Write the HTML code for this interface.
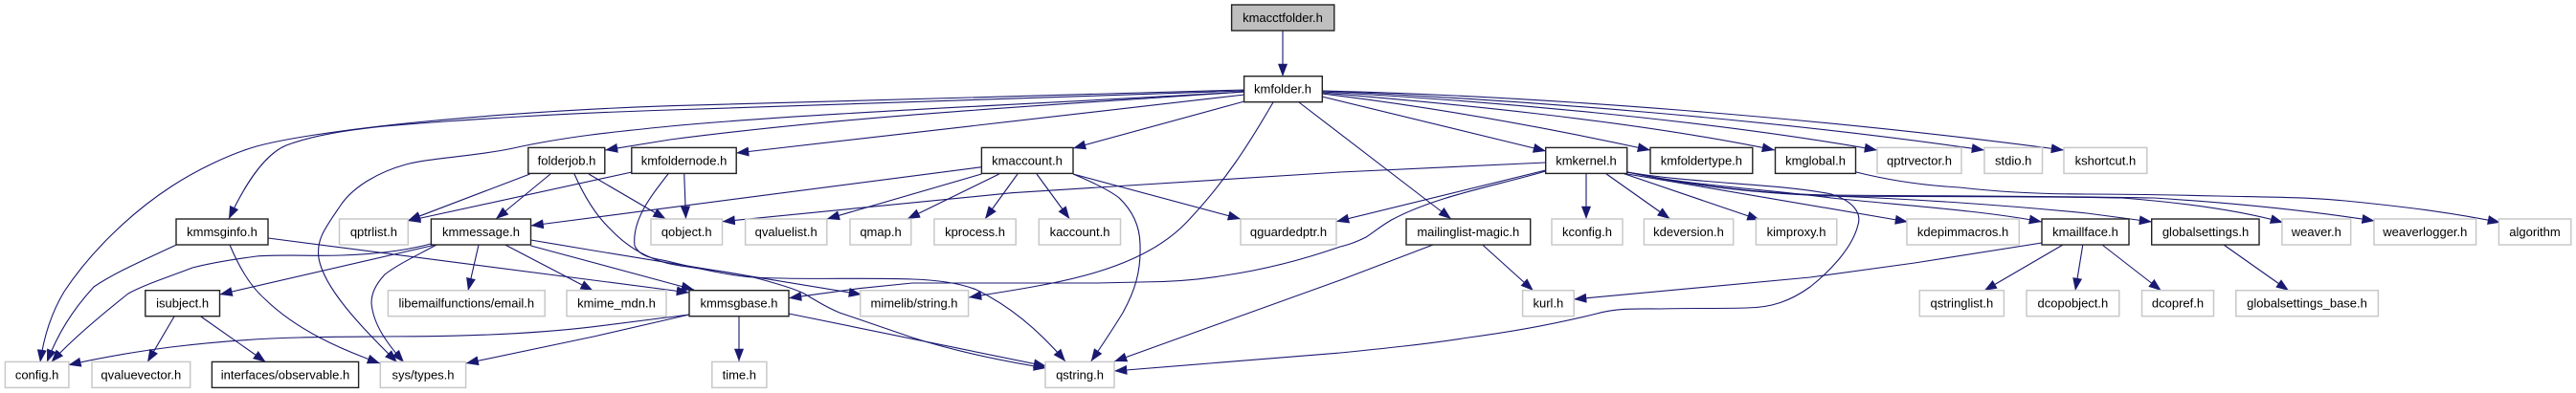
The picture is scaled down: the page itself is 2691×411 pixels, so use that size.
<!DOCTYPE html>
<html><head><meta charset="utf-8"><style>
html,body{margin:0;padding:0;background:#fff}
svg{display:block}
text{font-family:"Liberation Sans",Arial,sans-serif;font-size:13px;text-anchor:middle;fill:#000}
.e path{fill:none;stroke:#191970;stroke-width:1.1;marker-end:url(#a)}
.g rect{fill:#fff;stroke:#c8c8c8;stroke-width:1.5}
.b rect{fill:#fff;stroke:#222;stroke-width:1.4}
</style></head><body>
<svg xmlns="http://www.w3.org/2000/svg" width="2691" height="411" viewBox="0 0 2691 411">
<defs><marker id="a" markerUnits="userSpaceOnUse" markerWidth="14" markerHeight="10" refX="13.3" refY="5" orient="auto"><path d="M0,0L13.3,5L0,10z" fill="#191970"/></marker></defs>
<g class="e">
<path d="M1340,32L1340,80"/>
<path d="M1300,94L700,110.7C600,114 460,123 357,137C320,142 290,147 268,153C240,161 205,178 179,195C130,227 90,270 67,305C55,325 46,350 42,379"/>
<path d="M1300,95L700,115C600,118 480,125 402,132C360,136 325,142 299,152C275,162 255,195 239,229"/>
<path d="M1300,96C1100,108 850,118 700,132C640,138 590,143 536,155C500,163 450,165 424,172C395,180 370,195 357,213C340,238 330,250 333,270C338,300 375,340 415,379"/>
<path d="M1300,96C1100,110 900,120 700,146L632,157"/>
<path d="M1300,99L769,160"/>
<path d="M1300,106L1121,155"/>
<path d="M1330,107C1305,150 1280,190 1240,232C1190,285 1100,297 1012,311"/>
<path d="M1357,107L1516,229"/>
<path d="M1381,101L1615,158"/>
<path d="M1381,98C1480,110 1600,130 1724,157"/>
<path d="M1381,97C1500,107 1700,125 1854,157"/>
<path d="M1381,96C1550,105 1780,125 1961,157"/>
<path d="M1381,95C1600,105 1850,125 2073,157"/>
<path d="M1381,95C1600,100 1900,123 2156,157"/>
<path d="M553.6,182L426,230.7"/>
<path d="M575,182L518,229"/>
<path d="M615,182L695.5,229"/>
<path d="M599.6,181C610,205 622,225 638,240C655,258 675,270 700,276C730,282 760,283 787,290C810,296 830,302 840,307C855,316 865,322 877,327L953,353C1000,368 1050,378 1093,385"/>
<path d="M660,180L426,231"/>
<path d="M714.7,181L716.5,229"/>
<path d="M698.7,181C680,205 660,230 663,257C668,268 680,270 697,273C725,280 760,288 787,290C840,293 900,290 953,292C985,293 1005,297 1020,303C1055,320 1085,345 1113,378"/>
<path d="M184.4,256C150,272 120,285 98,300C75,325 60,350 49,378.7"/>
<path d="M240,256C250,280 262,300 277,313C310,345 355,365 397,380"/>
<path d="M280,249L720,306"/>
<path d="M450,255C420,263 390,266 357,267C325,268 295,266 268,268C245,271 220,275 201,280C175,290 150,298 134,307C105,330 75,355 53.6,378.7"/>
<path d="M455,256L229.5,308"/>
<path d="M456,256C430,270 415,277 402,287C392,298 388,307 388,317C390,340 405,360 422,379"/>
<path d="M500,256L489,304"/>
<path d="M527.7,256L619.6,304"/>
<path d="M554.5,251L620,262L900,308"/>
<path d="M554.5,257L725,303"/>
<path d="M720,329L620,341.7C560,349 500,351 446,351.7C400,352 355,352 312.5,353C270,354 220,358 178.6,363C140,368 105,374 71.4,381.7"/>
<path d="M720,329L620,352L486.6,380"/>
<path d="M824,328L1093,383"/>
<path d="M772,330L772,378"/>
<path d="M182,331L154,378.7"/>
<path d="M209.8,331L277.7,378.7"/>
<path d="M1025.4,174.7L554.5,236"/>
<path d="M1025.4,182L863.8,229"/>
<path d="M1043.8,182L947.8,229"/>
<path d="M1063,182L1029,229"/>
<path d="M1083,182L1117.4,229"/>
<path d="M1121,182L1296,229"/>
<path d="M1121,182C1145,192 1160,200 1168.8,206.7C1185,222 1191,240 1191,256.7C1192,285 1185,305 1173,327C1162,345 1152,360 1139.7,378"/>
<path d="M1614.7,170L1400,180L1057,201.7L754.5,231.7"/>
<path d="M1614.7,178L1396,231.7"/>
<path d="M1614.7,179C1560,195 1500,205 1453.6,230C1440,238 1435,243 1427,248C1415,254 1408,256 1400,258C1360,272 1320,282 1280,288C1250,293 1220,295 1191,295L1146,296L953,296L897,301.7L824,311.7"/>
<path d="M1657,181L1657,229"/>
<path d="M1676.8,181L1744.6,229"/>
<path d="M1694.6,181L1838.4,230"/>
<path d="M1700,182L1993,232"/>
<path d="M1700,180C1770,195 1850,198 1913,207C1990,215 2070,220 2133,232"/>
<path d="M1700,180C1770,195 1840,202 1913,205C2000,208 2100,215 2180,223L2248,232"/>
<path d="M1700,180C1780,197 1850,203 1913,205C2020,206 2120,205 2217,207C2280,212 2340,220 2385,232.7"/>
<path d="M1700,180C1780,197 1850,203 1913,204C2020,205 2150,205 2250,207C2330,212 2410,220 2480.7,231"/>
<path d="M1700,180C1770,192 1860,192 1913,203C1935,210 1945,222 1941,235C1935,260 1910,285 1891,300C1870,315 1850,322 1824,322C1790,323 1760,322 1735,323C1710,323 1690,322 1668,328C1620,340 1580,347 1534,353C1490,360 1440,365 1400,369L1164,388"/>
<path d="M1497,256L1400,293L1164,378"/>
<path d="M1548.7,256L1601.8,304"/>
<path d="M1939,180C1975,189 2010,194 2047,196C2090,201 2130,203 2180,203C2225,203 2275,204 2317,205C2360,206 2410,206 2450,210C2510,216 2560,222 2612,232.7"/>
<path d="M2133,254L2000,275L1891,290L1644,313"/>
<path d="M2155,256L2072.7,304"/>
<path d="M2175.8,256L2168,304"/>
<path d="M2196,256L2257.8,304"/>
<path d="M2323,256L2391,304"/>
</g>
<g class="b">
<rect x="1286.6" y="5" width="107.2" height="27" style="fill:#bfbfbf"/><text x="1340" y="23">kmacctfolder.h</text>
<rect x="1299.6" y="79.7" width="81.7" height="27"/><text x="1340" y="97.7">kmfolder.h</text>
<rect x="551.8" y="154.4" width="80" height="27"/><text x="592" y="172.4">folderjob.h</text>
<rect x="659.8" y="154.4" width="109.4" height="27"/><text x="714.5" y="172.4">kmfoldernode.h</text>
<rect x="1025.4" y="154.4" width="95.6" height="27"/><text x="1073" y="172.4">kmaccount.h</text>
<rect x="1614.7" y="154.4" width="85" height="27"/><text x="1657" y="172.4">kmkernel.h</text>
<rect x="1724" y="154.4" width="106.8" height="27"/><text x="1777.4" y="172.4">kmfoldertype.h</text>
<rect x="1854.5" y="154.4" width="84" height="27"/><text x="1896.5" y="172.4">kmglobal.h</text>
<rect x="184" y="229" width="96" height="27"/><text x="232" y="247">kmmsginfo.h</text>
<rect x="450.4" y="229" width="104.1" height="27"/><text x="502.5" y="247">kmmessage.h</text>
<rect x="1469" y="229" width="129.7" height="27"/><text x="1533.8" y="247">mailinglist-magic.h</text>
<rect x="2133" y="229" width="91" height="27"/><text x="2178.5" y="247">kmaillface.h</text>
<rect x="2247.7" y="229" width="112.3" height="27"/><text x="2304" y="247">globalsettings.h</text>
<rect x="151.8" y="303.7" width="77.7" height="27"/><text x="190.6" y="321.7">isubject.h</text>
<rect x="720" y="303.7" width="104" height="27"/><text x="772" y="321.7">kmmsgbase.h</text>
<rect x="221.4" y="378.4" width="153.2" height="27"/><text x="298" y="396.4">interfaces/observable.h</text>
</g>
<g class="g">
<rect x="1961" y="154.4" width="88" height="27"/><text x="2005" y="172.4">qptrvector.h</text>
<rect x="2073" y="154.4" width="60.5" height="27"/><text x="2103.2" y="172.4">stdio.h</text>
<rect x="2156" y="154.4" width="86.8" height="27"/><text x="2199.4" y="172.4">kshortcut.h</text>
<rect x="354.5" y="229" width="71.8" height="27"/><text x="390.4" y="247">qptrlist.h</text>
<rect x="680" y="229" width="74.5" height="27"/><text x="717.2" y="247">qobject.h</text>
<rect x="778.6" y="229" width="85.2" height="27"/><text x="821.2" y="247">qvaluelist.h</text>
<rect x="888" y="229" width="63.8" height="27"/><text x="920" y="247">qmap.h</text>
<rect x="975.9" y="229" width="85.3" height="27"/><text x="1018.5" y="247">kprocess.h</text>
<rect x="1085.3" y="229" width="85.2" height="27"/><text x="1128" y="247">kaccount.h</text>
<rect x="1296" y="229" width="100" height="27"/><text x="1346" y="247">qguardedptr.h</text>
<rect x="1621" y="229" width="74" height="27"/><text x="1658" y="247">kconfig.h</text>
<rect x="1717.4" y="229" width="93.3" height="27"/><text x="1764" y="247">kdeversion.h</text>
<rect x="1834.4" y="229" width="84.4" height="27"/><text x="1876.6" y="247">kimproxy.h</text>
<rect x="1992" y="229" width="117.3" height="27"/><text x="2050.6" y="247">kdepimmacros.h</text>
<rect x="2383.9" y="229" width="71.8" height="27"/><text x="2419.8" y="247">weaver.h</text>
<rect x="2480" y="229" width="106.6" height="27"/><text x="2533.3" y="247">weaverlogger.h</text>
<rect x="2610.4" y="229" width="75.4" height="27"/><text x="2648" y="247">algorithm</text>
<rect x="405.4" y="303.7" width="163.8" height="27"/><text x="487.3" y="321.7">libemailfunctions/email.h</text>
<rect x="592" y="303.7" width="104" height="27"/><text x="644" y="321.7">kmime_mdn.h</text>
<rect x="898.7" y="303.7" width="112.9" height="27"/><text x="955" y="321.7">mimelib/string.h</text>
<rect x="1590.6" y="303.7" width="53.6" height="27"/><text x="1617.4" y="321.7">kurl.h</text>
<rect x="2005.3" y="303.7" width="88.1" height="27"/><text x="2049.4" y="321.7">qstringlist.h</text>
<rect x="2117" y="303.7" width="96.8" height="27"/><text x="2165.4" y="321.7">dcopobject.h</text>
<rect x="2237.5" y="303.7" width="75" height="27"/><text x="2275" y="321.7">dcopref.h</text>
<rect x="2335.8" y="303.7" width="148.6" height="27"/><text x="2410" y="321.7">globalsettings_base.h</text>
<rect x="5.4" y="378.4" width="66.5" height="27"/><text x="38.6" y="396.4">config.h</text>
<rect x="96" y="378.4" width="102.7" height="27"/><text x="147.3" y="396.4">qvaluevector.h</text>
<rect x="397.3" y="378.4" width="89.3" height="27"/><text x="442" y="396.4">sys/types.h</text>
<rect x="743.8" y="378.4" width="57.1" height="27"/><text x="772.3" y="396.4">time.h</text>
<rect x="1092" y="378.4" width="72" height="27"/><text x="1128" y="396.4">qstring.h</text>
</g>
</svg>
</body></html>
